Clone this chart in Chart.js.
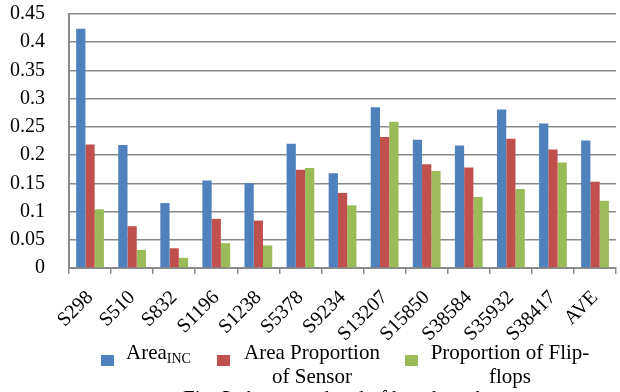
<!DOCTYPE html>
<html>
<head>
<meta charset="utf-8">
<script src="https://cdn.jsdelivr.net/npm/chart.js@4/dist/chart.umd.min.js"></script>
<style>
  html, body { margin: 0; padding: 0; background: #fff; overflow: hidden; width: 620px; height: 392px; }
  #wrap { position: absolute; left: 0; top: 0; width: 624px; height: 392px; }
  .lg { position: absolute; font-family: 'Liberation Serif', 'Times New Roman', serif; font-size: 21px; line-height: 24px; color: #000; }
  .mk { position: absolute; width: 13px; height: 11px; }
  .cap { position: absolute; left: 183px; top: 386px; font-family: 'Liberation Serif', serif; font-size: 21px; line-height: 24px; white-space: nowrap; }
</style>
</head>
<body>
<div id="wrap"><canvas id="c"></canvas></div>
<div id="legend"></div>
<div class="cap">Fig. 3. Area overhead of benchmarks</div>
<script>
const categories = ["S298","S510","S832","S1196","S1238","S5378","S9234","S13207","S15850","S38584","S35932","S38417","AVE"];
const areaINC = [0.424,0.218,0.115,0.155,0.150,0.220,0.168,0.285,0.227,0.217,0.281,0.256,0.226];
const areaSensor = [0.219,0.074,0.035,0.087,0.084,0.174,0.133,0.232,0.184,0.178,0.229,0.210,0.153];
const flipFlops = [0.104,0.032,0.018,0.044,0.040,0.177,0.111,0.259,0.172,0.126,0.140,0.187,0.119];
const seriesNames = ["AreaINC", "Area Proportion of Sensor", "Proportion of Flip-flops"];
const colors = ["#4F81BD", "#C0504D", "#9BBB59"];
const yTicks = [0,0.05,0.1,0.15,0.2,0.25,0.3,0.35,0.4,0.45];

const font = { family: "'Liberation Serif', 'Times New Roman', serif", size: 20 };
const gridColor = "#8a8a8a";

new Chart(document.getElementById('c'), {
  type: 'bar',
  data: {
    labels: categories,
    datasets: [areaINC, areaSensor, flipFlops].map((d, i) => ({
      label: seriesNames[i], data: d, backgroundColor: colors[i], borderWidth: 0,
      categoryPercentage: 0.66, barPercentage: 1.0
    }))
  },
  options: {
    responsive: true, maintainAspectRatio: false, animation: false,
    devicePixelRatio: 1,
    layout: { padding: { top: 14, left: 0, right: 0, bottom: 0 } },
    plugins: { legend: { display: false }, tooltip: { enabled: false } },
    scales: {
      x: {
        grid: { display: true, drawOnChartArea: false, drawTicks: true, tickLength: 6, color: gridColor, lineWidth: 1.5, offset: true },
        border: { display: true, color: gridColor, width: 2 },
        ticks: { color: '#000', font: font, minRotation: 45, maxRotation: 45, autoSkip: false, padding: 12 },
        afterFit: s => { s.height = 124; }
      },
      y: {
        min: 0, max: 0.45,
        afterBuildTicks: s => { s.ticks = yTicks.map(v => ({ value: v })); },
        grid: { color: gridColor, lineWidth: 1.5, drawTicks: false },
        border: { display: true, color: gridColor, width: 2 },
        ticks: { color: '#000', font: font, padding: 24, autoSkip: false, callback: v => String(Math.round(v * 100) / 100) },
        afterFit: s => { s.width = 69; s.paddingTop = 0; s.paddingBottom = 0; }
      }
    }
  }
});

// HTML legend (subscript and wrapped labels as in the reference)
const lg = document.getElementById('legend');
const items = [
  { mx: 101, tx: 126, w: 90, align: 'left', html: 'Area<sub style="font-size:14px;vertical-align:-4px;line-height:0">INC</sub>' },
  { mx: 217, tx: 241, w: 142, align: 'center', html: 'Area Proportion<br>of Sensor' },
  { mx: 405, tx: 427, w: 166, align: 'center', html: 'Proportion of Flip-<br>flops' }
];
items.forEach((it, i) => {
  const m = document.createElement('div');
  m.className = 'mk'; m.style.left = it.mx + 'px'; m.style.top = '355px'; m.style.background = colors[i];
  lg.appendChild(m);
  const t = document.createElement('div');
  t.className = 'lg'; t.style.left = it.tx + 'px'; t.style.top = '340px'; t.style.width = it.w + 'px';
  t.style.textAlign = it.align; t.style.whiteSpace = 'nowrap';
  t.innerHTML = it.html;
  lg.appendChild(t);
});
</script>
</body>
</html>
